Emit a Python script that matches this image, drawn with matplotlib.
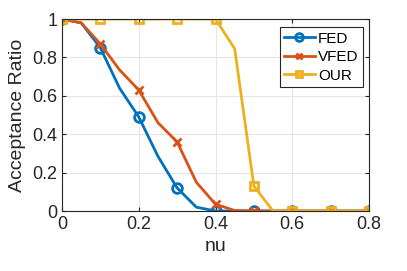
import matplotlib
matplotlib.use('Agg')
import matplotlib.pyplot as plt
import numpy as np

# data (step 0.05, markers every 0.1)
nu = np.round(np.arange(0, 0.81, 0.05), 2)
fed = [1, 0.98, 0.85, 0.64, 0.49, 0.285, 0.12, 0.02, 0.0, 0, 0, 0, 0, 0, 0, 0, 0]
vfed = [1, 0.98, 0.87, 0.735, 0.63, 0.46, 0.36, 0.15, 0.035, 0.003, 0, 0, 0, 0, 0, 0, 0]
our = [1, 1, 1, 1, 1, 1, 1, 1, 1, 0.845, 0.13, 0, 0, 0, 0, 0, 0]
labels = ['FED', 'VFED', 'OUR']

plt.rcParams['font.family'] = ['Liberation Sans', 'DejaVu Sans']

fig = plt.figure(figsize=(4.07, 2.71), dpi=100)
ax = fig.add_axes([62/407, 60/271, 307/407, 192/271])

mk = slice(0, None, 2)
ax.plot(nu, fed, color='#0072BD', lw=2, marker='o', markevery=mk, ms=7,
        mfc='none', mew=2, label=labels[0])
ax.plot(nu, vfed, color='#D95319', lw=2, marker='x', markevery=mk, ms=6,
        mew=2, label=labels[1])
ax.plot(nu, our, color='#EDB120', lw=2, marker='s', markevery=mk, ms=6,
        mfc='none', mew=2, label=labels[2])

ax.set_xlim(0, 0.8)
ax.set_ylim(0, 1)
ax.set_xticks([0, 0.2, 0.4, 0.6, 0.8])
ax.set_xticklabels(['0', '0.2', '0.4', '0.6', '0.8'])
ax.set_yticks([0, 0.2, 0.4, 0.6, 0.8, 1])
ax.set_yticklabels(['0', '0.2', '0.4', '0.6', '0.8', '1'])
ax.grid(True, color='#e6e6e6', lw=0.8)
ax.set_axisbelow(True)
ax.tick_params(direction='in', labelsize=13, colors='#262626', top=True, right=True, length=3)
for s in ax.spines.values():
    s.set_color('#262626')
    s.set_linewidth(0.8)
ax.set_xlabel('nu', fontsize=14, color='#262626')
ax.set_ylabel('Acceptance Ratio', fontsize=14, color='#262626')

leg = ax.legend(loc='upper right', bbox_to_anchor=(0.98, 0.958), borderaxespad=0,
                fontsize=11, fancybox=False, edgecolor='#262626', framealpha=1,
                handlelength=2.0, handletextpad=0.2, borderpad=0.3, labelspacing=0.3,
                markerscale=0.8)
leg.get_frame().set_linewidth(0.8)

fig.savefig('out.png', dpi=100)
